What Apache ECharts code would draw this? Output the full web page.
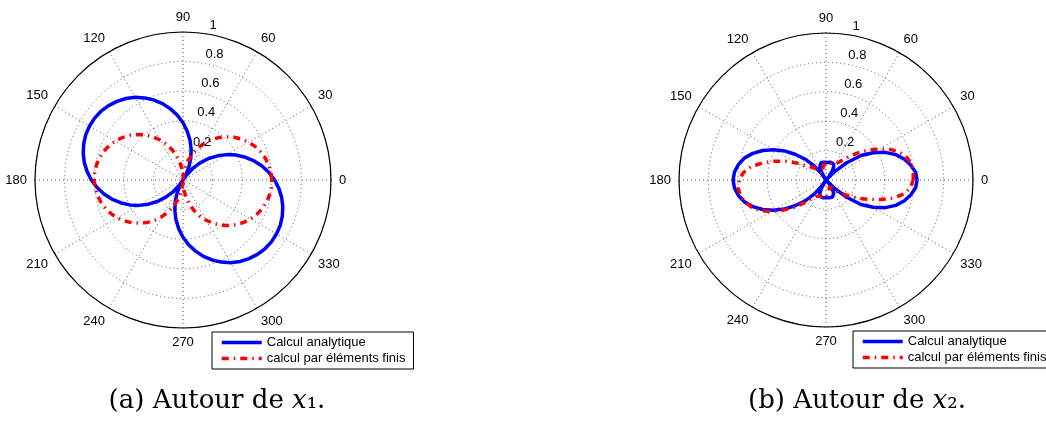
<!DOCTYPE html>
<html>
<head>
<meta charset="utf-8">
<script src="https://cdn.jsdelivr.net/npm/echarts@6/dist/echarts.min.js"></script>
<style>
  html, body { margin: 0; padding: 0; background: #fff; }
  #chart { width: 1046px; height: 428px; }
</style>
</head>
<body>
<div id="chart"></div>
<script>
// Angular ticks (degrees) and radial ticks shared by both polar plots
const angleTicks = [0, 30, 60, 90, 120, 150, 180, 210, 240, 270, 300, 330];
const radialTicks = [0.2, 0.4, 0.6, 0.8, 1];

const seriesNames = ['Calcul analytique', 'calcul par éléments finis'];
const captions = ['(a) Autour de ', '(b) Autour de '];
const captionSubscripts = ['₁', '₂'];

// (a) around x1 — [angle in degrees, radius]
const blueA = [
  [0,0.619],[5,0.583],[10,0.542],[15,0.498],[20,0.449],[25,0.398],[30,0.343],[35,0.285],[40,0.226],[45,0.164],
  [50,0.102],[55,0.038],[58,0],[60,0.025],[65,0.089],[70,0.152],[75,0.213],[80,0.273],[85,0.331],[90,0.387],
  [95,0.439],[100,0.488],[105,0.534],[110,0.575],[115,0.612],[120,0.645],[125,0.672],[130,0.694],[135,0.711],
  [140,0.723],[145,0.729],[150,0.729],[155,0.725],[160,0.714],[165,0.698],[170,0.677],[175,0.650],[180,0.619],
  [185,0.583],[190,0.542],[195,0.498],[200,0.449],[205,0.398],[210,0.343],[215,0.285],[220,0.226],[225,0.164],
  [230,0.102],[235,0.038],[238,0],[240,0.025],[245,0.089],[250,0.152],[255,0.213],[260,0.273],[265,0.331],
  [270,0.387],[275,0.439],[280,0.488],[285,0.534],[290,0.575],[295,0.612],[300,0.645],[305,0.672],[310,0.694],
  [315,0.711],[320,0.723],[325,0.729],[330,0.729],[335,0.725],[340,0.714],[345,0.698],[350,0.677],[355,0.650],
  [360,0.619]
];
const redA = [
  [0,0.600],[5,0.596],[10,0.588],[15,0.575],[20,0.558],[25,0.537],[30,0.512],[35,0.482],[40,0.449],[45,0.413],
  [50,0.374],[55,0.331],[60,0.286],[65,0.239],[70,0.190],[75,0.140],[80,0.089],[85,0.037],[88.5,0],[90,0.016],
  [95,0.068],[100,0.120],[105,0.170],[110,0.220],[115,0.268],[120,0.314],[125,0.357],[130,0.398],[135,0.435],
  [140,0.470],[145,0.500],[150,0.527],[155,0.550],[160,0.569],[165,0.583],[170,0.593],[175,0.599],[180,0.600],
  [185,0.596],[190,0.588],[195,0.575],[200,0.558],[205,0.537],[210,0.512],[215,0.482],[220,0.449],[225,0.413],
  [230,0.374],[235,0.331],[240,0.286],[245,0.239],[250,0.190],[255,0.140],[260,0.089],[265,0.037],[268.5,0],
  [270,0.016],[275,0.068],[280,0.120],[285,0.170],[290,0.220],[295,0.268],[300,0.314],[305,0.357],[310,0.398],
  [315,0.435],[320,0.470],[325,0.500],[330,0.527],[335,0.550],[340,0.569],[345,0.583],[350,0.593],[355,0.599],
  [360,0.600]
];

// (b) around x2 — [angle in degrees, radius]
const blueB = [
  [0,0.620],[5,0.612],[10,0.585],[15,0.550],[20,0.505],[25,0.445],[30,0.370],[35,0.290],[40,0.180],[45,0.070],
  [48,0],[50,0.030],[55,0.075],[60,0.105],[65,0.120],[70,0.125],[75,0.125],[80,0.122],[85,0.120],[90,0.120],
  [95,0.121],[100,0.123],[105,0.124],[110,0.118],[115,0.100],[120,0.055],[123,0],[125,0.050],[130,0.125],
  [135,0.200],[140,0.270],[145,0.345],[150,0.410],[155,0.475],[160,0.530],[165,0.575],[170,0.605],[175,0.625],
  [180,0.632],[185,0.625],[190,0.605],[195,0.575],[200,0.530],[205,0.475],[210,0.410],[215,0.345],[220,0.270],
  [225,0.200],[230,0.125],[235,0.050],[237,0],[240,0.055],[245,0.100],[250,0.118],[255,0.124],[260,0.123],
  [265,0.121],[270,0.120],[275,0.120],[280,0.122],[285,0.125],[290,0.125],[295,0.120],[300,0.105],[305,0.075],
  [310,0.030],[312,0],[315,0.070],[320,0.180],[325,0.290],[330,0.370],[335,0.445],[340,0.505],[345,0.550],
  [350,0.585],[355,0.612],[360,0.620]
];
const redB = [
  [0,0.593],[5,0.596],[10,0.590],[15,0.574],[20,0.540],[25,0.490],[30,0.425],[35,0.355],[40,0.290],[45,0.228],
  [50,0.178],[55,0.145],[60,0.125],[65,0.118],[70,0.117],[75,0.120],[80,0.122],[85,0.121],[90,0.117],[95,0.110],
  [100,0.098],[105,0.083],[110,0.066],[115,0.052],[120,0.050],[125,0.065],[130,0.090],[135,0.115],[140,0.140],
  [145,0.170],[150,0.230],[155,0.300],[160,0.375],[165,0.448],[170,0.520],[175,0.565],[180,0.590],[185,0.600],
  [190,0.593],[195,0.573],[200,0.540],[205,0.490],[210,0.430],[215,0.360],[220,0.292],[225,0.230],[230,0.180],
  [235,0.147],[240,0.127],[245,0.120],[250,0.118],[255,0.120],[260,0.122],[265,0.120],[270,0.116],[275,0.108],
  [280,0.096],[285,0.082],[290,0.066],[295,0.053],[300,0.050],[305,0.063],[310,0.088],[315,0.115],[320,0.145],
  [325,0.190],[330,0.250],[335,0.310],[340,0.390],[345,0.475],[350,0.540],[355,0.578],[360,0.593]
];

const RADIAL_LABEL_ANGLE = 82;
const SANS = "'Liberation Sans', Arial, Helvetica, sans-serif";
const SERIF = "'DejaVu Serif', 'Liberation Serif', serif";
const FONT_SIZE = 13;
const BLUE = '#0000ff';
const RED = '#ff0000';
const RED_DASH = [7, 5, 1.5, 5];
const GRID_DOTS = [1, 3];

// ECharts polar data order is [radius, angle]
const toPolar = pts => pts.map(p => [p[1], p[0]]);

const polarLayouts = [
  { center: [183, 180], radius: 148 },
  { center: [826, 180], radius: 147 }
];

function angleAxisFor(i) {
  return {
    polarIndex: i,
    type: 'value',
    startAngle: 0,
    clockwise: false,
    min: angleTicks[0],
    max: 360,
    interval: angleTicks[1] - angleTicks[0],
    axisLine: { show: true, lineStyle: { color: '#000', width: 1.2 } },
    axisTick: { show: false },
    axisLabel: { show: true, margin: 8, color: '#000', fontSize: FONT_SIZE, fontFamily: SANS },
    splitLine: { show: true, lineStyle: { color: '#555', width: 1, type: GRID_DOTS } }
  };
}
function radiusAxisFor(i) {
  return {
    polarIndex: i,
    type: 'value',
    min: 0,
    max: radialTicks[radialTicks.length - 1],
    interval: radialTicks[1] - radialTicks[0],
    axisLine: { show: false },
    axisTick: { show: false },
    axisLabel: { show: false },
    splitLine: { show: true, lineStyle: { color: '#555', width: 1, type: GRID_DOTS } }
  };
}

function curve(name, data, polarIndex, color, dash) {
  return {
    name: name,
    type: 'line',
    coordinateSystem: 'polar',
    polarIndex: polarIndex,
    data: toPolar(data),
    showSymbol: false,
    symbol: 'none',
    smooth: false,
    animation: false,
    z: 3,
    lineStyle: { color: color, width: 3.5, type: dash || 'solid', cap: 'butt' },
    itemStyle: { color: color }
  };
}

// radial tick labels, set along the 82° ray like MATLAB's polar()
function radialLabels(polarIndex) {
  return {
    name: 'radial ticks ' + polarIndex,
    type: 'scatter',
    coordinateSystem: 'polar',
    polarIndex: polarIndex,
    data: radialTicks.map(r => [r, RADIAL_LABEL_ANGLE]),
    symbol: 'circle',
    symbolSize: 0.01,
    itemStyle: { color: '#fff', opacity: 1 },
    silent: true,
    animation: false,
    z: 4,
    label: {
      show: true,
      position: [6, -15],
      color: '#000',
      opacity: 1,
      fontSize: FONT_SIZE,
      fontFamily: SANS,
      formatter: p => String(p.value[0])
    }
  };
}

function legendFor(left, top) {
  return {
    data: seriesNames,
    left: left,
    top: top,
    orient: 'vertical',
    itemWidth: 40,
    itemHeight: 14,
    itemGap: 3,
    padding: [4, 8, 4, 8],
    borderColor: '#000',
    borderWidth: 1,
    borderRadius: 0,
    backgroundColor: '#fff',
    selectedMode: false,
    textStyle: { color: '#000', fontSize: FONT_SIZE, fontFamily: SANS },
    itemStyle: { color: 'rgba(0,0,0,0)', borderWidth: 0, opacity: 0 },
    lineStyle: { width: 3.5 }
  };
}

function captionFor(i, centerX) {
  return {
    text: captions[i] + '{x|x}' + captionSubscripts[i] + '.',
    left: centerX,
    textAlign: 'center',
    top: 388,
    padding: 0,
    textStyle: {
      color: '#000', fontSize: 26, fontWeight: 'normal', fontFamily: SERIF,
      rich: { x: { fontSize: 26, fontStyle: 'italic', fontFamily: SERIF, color: '#000' } }
    }
  };
}

const chart = echarts.init(document.getElementById('chart'), null, { renderer: 'canvas' });
chart.setOption({
  backgroundColor: '#fff',
  animation: false,
  title: [captionFor(0, 217), captionFor(1, 857)],
  polar: polarLayouts,
  angleAxis: [angleAxisFor(0), angleAxisFor(1)],
  radiusAxis: [radiusAxisFor(0), radiusAxisFor(1)],
  legend: [legendFor(212, 332), legendFor(853, 331)],
  series: [
    curve(seriesNames[0], blueA, 0, BLUE),
    curve(seriesNames[1], redA, 0, RED, RED_DASH),
    curve(seriesNames[0], blueB, 1, BLUE),
    curve(seriesNames[1], redB, 1, RED, RED_DASH),
    radialLabels(0),
    radialLabels(1)
  ]
});
</script>
</body>
</html>
